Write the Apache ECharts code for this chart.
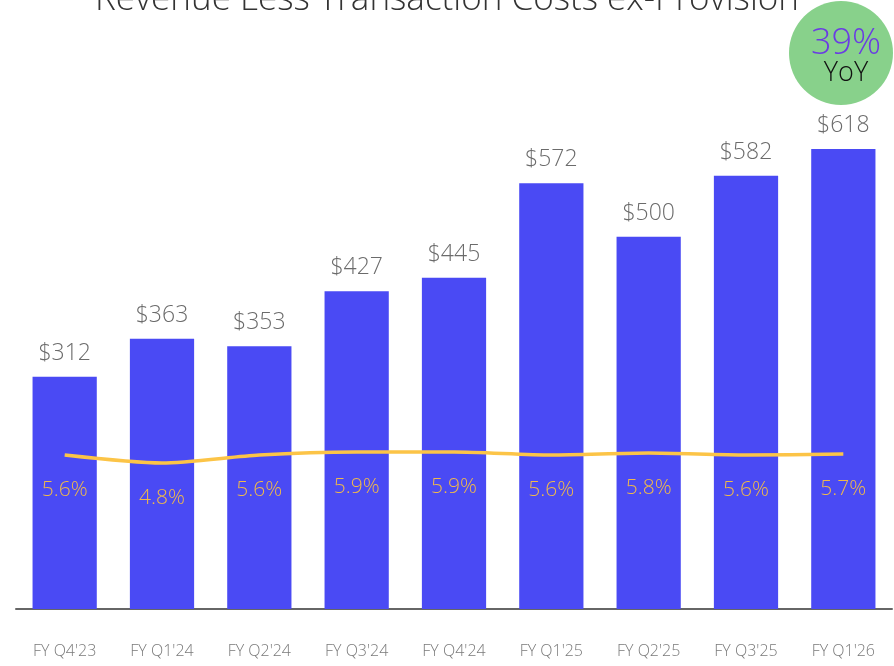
<!DOCTYPE html>
<html>
<head>
<meta charset="utf-8">
<script src="https://cdn.jsdelivr.net/npm/echarts@6/dist/echarts.min.js"></script>
<style>
  html, body { margin: 0; padding: 0; background: #fff; }
  #main { width: 894px; height: 666px; }
</style>
</head>
<body>
<div id="main"></div>
<script>
var quarters = ["FY Q4'23", "FY Q1'24", "FY Q2'24", "FY Q3'24", "FY Q4'24", "FY Q1'25", "FY Q2'25", "FY Q3'25", "FY Q1'26"];
var revenue = [312, 363, 353, 427, 445, 572, 500, 582, 618];
var marginPct = [5.6, 4.8, 5.6, 5.9, 5.9, 5.6, 5.8, 5.6, 5.7];
var yoyText = '39%';

var FONT = "'Open Sans', 'Noto Sans', sans-serif";

var chart = echarts.init(document.getElementById('main'));

var option = {
    animation: false,
    textStyle: { fontFamily: FONT },
    grid: { left: 16, right: 2, top: 88, bottom: 57 },
    xAxis: {
        type: 'category',
        data: quarters,
        axisLine: { lineStyle: { color: '#666', width: 2 } },
        axisTick: { show: false },
        axisLabel: { color: '#7a7a7a', fontSize: 16, fontWeight: 300, margin: 34, fontFamily: FONT }
    },
    yAxis: [
        { type: 'value', min: 0, max: 700, show: false, splitLine: { show: false } },
        { type: 'value', min: -9.8, max: 42.3, show: false, splitLine: { show: false } }
    ],
    series: [
        {
            name: 'Revenue',
            type: 'bar',
            data: revenue,
            barWidth: '66%',
            itemStyle: { color: '#4a4af4' },
            label: {
                show: true,
                position: 'top',
                distance: 12,
                formatter: function (p) { return '$' + p.value; },
                color: '#6b6b6b',
                fontSize: 23,
                fontWeight: 300,
                fontFamily: FONT
            }
        },
        {
            name: 'Margin',
            type: 'line',
            yAxisIndex: 1,
            data: marginPct,
            smooth: 0.25,
            symbol: 'circle',
            symbolSize: 1,
            showSymbol: true,
            itemStyle: { color: 'rgba(0,0,0,0)' },
            lineStyle: { color: '#fcc447', width: 3.5 },
            z: 5,
            label: {
                show: true,
                position: 'bottom',
                distance: 24,
                formatter: function (p) { return p.value.toFixed(1) + '%'; },
                color: '#efb94c',
                fontSize: 21,
                fontWeight: 300,
                fontFamily: FONT
            }
        }
    ],
    graphic: [
        {
            type: 'text',
            left: 'center',
            top: -17,
            style: {
                text: 'Revenue Less Transaction Costs ex-Provision',
                fill: '#333',
                font: '300 35px ' + FONT
            }
        },
        {
            type: 'circle',
            shape: { cx: 841, cy: 53, r: 52 },
            style: { fill: '#88d18b' }
        },
        {
            type: 'text',
            x: 846, y: 44,
            style: {
                text: yoyText,
                fill: '#6a3ce3',
                font: '300 36px ' + FONT,
                align: 'center',
                verticalAlign: 'middle'
            }
        },
        {
            type: 'text',
            x: 846, y: 73,
            style: {
                text: 'YoY',
                fill: '#111',
                font: '300 27px ' + FONT,
                align: 'center',
                verticalAlign: 'middle'
            }
        }
    ]
};

chart.setOption(option);
</script>
</body>
</html>
